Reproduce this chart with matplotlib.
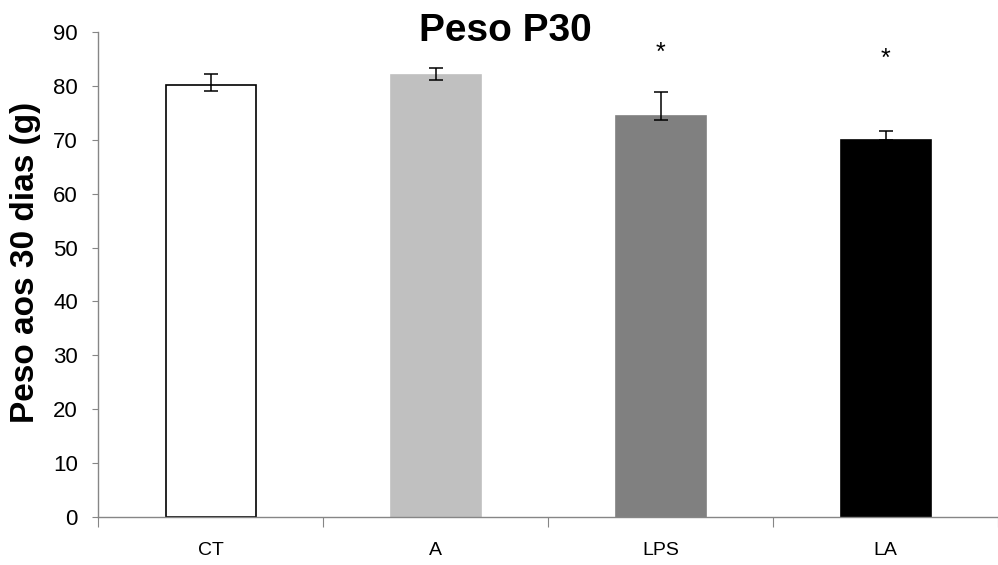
import matplotlib
matplotlib.use("Agg")
import matplotlib.pyplot as plt
import numpy as np

categories = ["CT", "A", "LPS", "LA"]
values = [80.2, 82.1, 74.4, 69.9]
err_lower = [1.1, 1.1, 0.7, 0.0]
err_upper = [2.0, 1.3, 4.5, 1.8]
bar_colors = ["#ffffff", "#c0c0c0", "#808080", "#000000"]
significant = [False, False, True, True]
star_y = [None, None, 86.2, 85.0]
yticks = list(range(0, 91, 10))

plt.rcParams['font.family'] = ['Liberation Sans', 'DejaVu Sans']

fig = plt.figure(figsize=(9.98, 5.65), dpi=100)
ax = fig.add_axes([98/998, 48/565, 900/998, (517-32)/565])

x = np.arange(len(categories))
ax.bar(x, values, width=0.4, color=bar_colors, edgecolor=["#000000", "#c0c0c0", "#808080", "#000000"],
       linewidth=1.2, zorder=2)
ax.errorbar(x, values, yerr=[err_lower, err_upper], fmt='none', ecolor='black',
            elinewidth=1.1, capsize=5, capthick=1.1, zorder=3)
for xi, s, sy in zip(x, significant, star_y):
    if s:
        ax.text(xi, sy, "*", ha='center', va='center', fontsize=18)

ax.set_xlim(-0.5, -0.5 + 900/227)
ax.set_ylim(0, 90)
ax.set_yticks(yticks)
ax.tick_params(axis='y', labelsize=16, length=4.5, color='#868686', direction='out', pad=10)
ax.set_xticks(np.arange(-0.5, 3.6, 1.0))
ax.set_xticklabels([])
ax.set_xticks(x, minor=True)
ax.set_xticklabels(categories, minor=True)
ax.tick_params(axis='x', which='major', length=7, color='#868686', direction='out')
ax.tick_params(axis='x', which='minor', length=0, labelsize=14, pad=18)

for sp in ['top', 'right']:
    ax.spines[sp].set_visible(False)
for sp in ['left', 'bottom']:
    ax.spines[sp].set_color('#868686')
    ax.spines[sp].set_linewidth(1.0)

ax.set_ylabel("Peso aos 30 dias (g)", fontsize=24, fontweight='bold')
ax.yaxis.set_label_coords((41 - 98) / 900, (517 - 262) / 485)
fig.text(505/998, 1 - 41/565, "Peso P30", ha='center', va='baseline', fontsize=28, fontweight='bold')

fig.savefig("out.png", dpi=100)
